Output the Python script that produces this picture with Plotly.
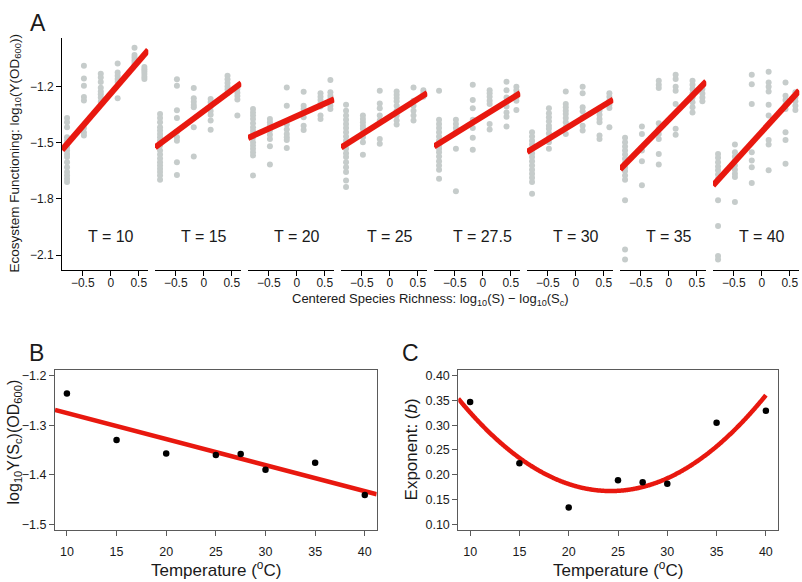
import numpy as np
import plotly.graph_objects as go

# ---------------- data ----------------
temperatures = [10, 15, 20, 25, 27.5, 30, 35, 40]
temp_labels = ["T = 10", "T = 15", "T = 20", "T = 25", "T = 27.5", "T = 30", "T = 35", "T = 40"]
species_richness = [1, 2, 4, 8, 16, 24]
log10_Sc = 0.78

# log10(Y(OD600)) per richness level (one list per level), per temperature
ef_T10 = [
    [-1.367, -1.390, -1.417, -1.470, -1.488, -1.505, -1.523, -1.541, -1.559, -1.576, -1.603, -1.630, -1.656, -1.674, -1.692, -1.709],
    [-1.088, -1.156, -1.195, -1.255, -1.273, -1.420, -1.445, -1.461],
    [-1.130, -1.150, -1.175, -1.205, -1.225, -1.240, -1.257, -1.280],
    [-1.076, -1.124, -1.141, -1.159, -1.175, -1.262],
    [-0.991, -1.030, -1.044, -1.058, -1.071, -1.085],
    [-1.094, -1.106, -1.119, -1.132, -1.147, -1.159],
]
ef_T15 = [
    [-1.346, -1.367, -1.390, -1.417, -1.434, -1.452, -1.470, -1.488, -1.514, -1.541, -1.562, -1.583, -1.603, -1.621, -1.638, -1.656, -1.674, -1.697],
    [-1.160, -1.195, -1.325, -1.367, -1.440, -1.470, -1.488, -1.603, -1.672],
    [-1.207, -1.262, -1.280, -1.297, -1.310, -1.417, -1.573],
    [-1.266, -1.283, -1.305, -1.330, -1.350, -1.380, -1.430],
    [-1.141, -1.160, -1.180, -1.198, -1.215, -1.233],
    [-1.212, -1.232, -1.250, -1.268, -1.354],
]
ef_T20 = [
    [-1.319, -1.337, -1.354, -1.372, -1.395, -1.417, -1.434, -1.452, -1.473, -1.496, -1.514, -1.532, -1.550, -1.567, -1.674],
    [-1.372, -1.390, -1.408, -1.434, -1.456, -1.479, -1.518, -1.615],
    [-1.204, -1.301, -1.402, -1.429, -1.452, -1.470, -1.484, -1.527],
    [-1.227, -1.301, -1.319, -1.337, -1.363, -1.408, -1.431],
    [-1.235, -1.253, -1.271, -1.289, -1.306, -1.354, -1.372],
    [-1.164, -1.230, -1.248, -1.266, -1.283, -1.301, -1.319],
]
ef_T25 = [
    [-1.296, -1.328, -1.354, -1.377, -1.399, -1.420, -1.443, -1.466, -1.488, -1.509, -1.532, -1.555, -1.576, -1.603, -1.630, -1.656, -1.701, -1.736],
    [-1.354, -1.372, -1.390, -1.408, -1.425, -1.448, -1.470, -1.496, -1.564],
    [-1.221, -1.289, -1.315, -1.354, -1.381, -1.479, -1.505],
    [-1.225, -1.243, -1.260, -1.278, -1.301, -1.328, -1.354, -1.381, -1.402],
    [-1.204, -1.275, -1.301, -1.328, -1.354, -1.381],
    [-1.218, -1.235, -1.253],
]
ef_T27_5 = [
    [-1.221, -1.377, -1.399, -1.420, -1.443, -1.466, -1.488, -1.514, -1.532, -1.550, -1.573, -1.598, -1.621, -1.644, -1.692],
    [-1.377, -1.399, -1.420, -1.443, -1.532, -1.759],
    [-1.189, -1.271, -1.315, -1.377, -1.420, -1.473, -1.537],
    [-1.218, -1.235, -1.253, -1.275, -1.292, -1.399, -1.429],
    [-1.173, -1.218, -1.257, -1.283, -1.306, -1.337, -1.360, -1.413],
    [-1.200, -1.218, -1.239, -1.257, -1.275, -1.324],
]
ef_T30 = [
    [-1.443, -1.466, -1.488, -1.509, -1.532, -1.555, -1.576, -1.598, -1.621, -1.644, -1.665, -1.686, -1.709, -1.772],
    [-1.315, -1.342, -1.363, -1.385, -1.408, -1.425, -1.448, -1.473, -1.496, -1.532],
    [-1.225, -1.292, -1.310, -1.328, -1.346, -1.367, -1.390, -1.417, -1.452],
    [-1.200, -1.235, -1.310, -1.331, -1.363, -1.408, -1.434],
    [-1.328, -1.349, -1.372, -1.390, -1.461, -1.479],
    [-1.235, -1.253, -1.275, -1.296, -1.314, -1.417],
]
ef_T35 = [
    [-1.473, -1.496, -1.519, -1.541, -1.562, -1.585, -1.608, -1.630, -1.651, -1.674, -1.697, -1.807, -2.070, -2.123],
    [-1.413, -1.452, -1.541, -1.598, -1.727],
    [-1.168, -1.189, -1.207, -1.395, -1.425, -1.452, -1.479, -1.559, -1.615],
    [-1.136, -1.159, -1.200, -1.221, -1.292, -1.425, -1.457],
    [-1.168, -1.189, -1.212, -1.236, -1.257, -1.283, -1.310, -1.337],
    [-1.195, -1.212, -1.236, -1.257, -1.278],
]
ef_T40 = [
    [-1.559, -1.580, -1.603, -1.626, -1.647, -1.669, -1.692, -1.807, -1.945, -2.105, -2.123],
    [-1.509, -1.550, -1.573, -1.594, -1.621, -1.644, -1.665, -1.683, -1.816],
    [-1.136, -1.186, -1.292, -1.550, -1.594, -1.630, -1.715],
    [-1.120, -1.177, -1.200, -1.225, -1.296, -1.354, -1.484, -1.509, -1.647],
    [-1.177, -1.248, -1.271, -1.296, -1.319, -1.443, -1.484, -1.612],
    [-1.230, -1.257, -1.278, -1.301, -1.324],
]
ef_all = [ef_T10, ef_T15, ef_T20, ef_T25, ef_T27_5, ef_T30, ef_T35, ef_T40]

# Panel B: log10 Y(Sc) per temperature ; Panel C: exponent b per temperature
log10_Y_Sc = [-1.236, -1.330, -1.357, -1.360, -1.358, -1.390, -1.376, -1.441]
exponent_b = [0.347, 0.223, 0.134, 0.189, 0.185, 0.182, 0.305, 0.329]

# ---------------- layout helpers ----------------
W, H = 802, 582
def fx(px):
    return px / W
def fy(py):
    return 1 - py / H

FONT = "Liberation Sans, Arial, Helvetica, sans-serif"
RED = "#e8180f"
GRAY = "#c6cccb"

A_left, A_step, A_width = 62.0, 93.0, 86.3
A_top, A_bottom = 36.7, 270.0
A_xrange = [-0.87, 0.67]
A_yrange = [-2.18, -0.937]

fig = go.Figure()
layout = dict(
    width=W, height=H, margin=dict(l=0, r=0, t=0, b=0),
    paper_bgcolor="white", plot_bgcolor="white", showlegend=False,
    font=dict(family=FONT, color="#1a1a1a", size=12),
)

x_centered = np.log10(species_richness) - log10_Sc

for i, (T, ef) in enumerate(zip(temperatures, ef_all)):
    xname = "x" if i == 0 else f"x{i+1}"
    xs, ys = [], []
    for xc, col in zip(x_centered, ef):
        xs += [xc] * len(col)
        ys += col
    fig.add_trace(go.Scatter(x=xs, y=ys, xaxis=xname, yaxis="y", mode="markers",
                             marker=dict(size=6, color=GRAY), hoverinfo="skip"))
    lx = np.array(A_xrange)
    fig.add_trace(go.Scatter(x=lx, y=log10_Y_Sc[i] + exponent_b[i] * lx, xaxis=xname, yaxis="y",
                             mode="lines", line=dict(color=RED, width=6)))
    x0 = A_left + i * A_step
    axkey = "xaxis" if i == 0 else f"xaxis{i+1}"
    layout[axkey] = dict(
        domain=[fx(x0), fx(x0 + A_width)], range=A_xrange, anchor="y",
        showgrid=False, zeroline=False, showline=True, linecolor="black", linewidth=1,
        ticks="outside", ticklen=5, tickcolor="black",
        tickvals=[-0.5, 0, 0.5], ticktext=["\u22120.5", "0", "0.5"],
        tickfont=dict(size=12, family=FONT, color="#1a1a1a"), ticklabelstandoff=-3,
    )
    layout.setdefault("annotations", []).append(dict(
        x=0, y=-2.0, xref=xname, yref="y", text=temp_labels[i], showarrow=False,
        font=dict(size=16, family=FONT, color="#1a1a1a"), xanchor="center", yanchor="middle"))

layout["yaxis"] = dict(
    domain=[fy(A_bottom), fy(A_top)], range=A_yrange, anchor="x",
    showgrid=False, zeroline=False, showline=True, linecolor="black", linewidth=1,
    ticks="outside", ticklen=5, tickcolor="black",
    tickvals=[-1.2, -1.5, -1.8, -2.1], tickformat=".1f",
    tickfont=dict(size=12, family=FONT, color="#1a1a1a"),
)

# ---------------- panel B ----------------
temps = np.array(temperatures, dtype=float)
B_xrange = [8.8, 41.2]
coefB = np.polyfit(temps, log10_Y_Sc, 1)
bx = np.array(B_xrange)
fig.add_trace(go.Scatter(x=bx, y=np.polyval(coefB, bx), xaxis="x9", yaxis="y2", mode="lines",
                         line=dict(color=RED, width=4.5)))
fig.add_trace(go.Scatter(x=temperatures, y=log10_Y_Sc, xaxis="x9", yaxis="y2", mode="markers",
                         marker=dict(size=6.5, color="black")))

# ---------------- panel C ----------------
coefC = np.polyfit(temps, exponent_b, 2)
cx = np.linspace(B_xrange[0], temps.max(), 300)
fig.add_trace(go.Scatter(x=cx, y=np.polyval(coefC, cx), xaxis="x10", yaxis="y3", mode="lines",
                         line=dict(color=RED, width=4.5, shape="spline")))
fig.add_trace(go.Scatter(x=temperatures, y=exponent_b, xaxis="x10", yaxis="y3", mode="markers",
                         marker=dict(size=6.5, color="black")))

BOX = "#5a5a5a"
common_x = dict(range=B_xrange, tickvals=[10, 15, 20, 25, 30, 35, 40],
                showgrid=False, zeroline=False, showline=True, mirror=True,
                linecolor=BOX, linewidth=1, ticks="outside", ticklen=5, tickcolor=BOX,
                tickfont=dict(size=12.5, family=FONT, color="#1a1a1a"), ticklabelstandoff=5)
common_y = dict(showgrid=False, zeroline=False, showline=True, mirror=True,
                linecolor=BOX, linewidth=1, ticks="outside", ticklen=5, tickcolor=BOX,
                tickfont=dict(size=12.5, family=FONT, color="#1a1a1a"))
BC_top, BC_bottom = 370.0, 531.0
layout["xaxis9"] = dict(domain=[fx(55), fx(376.7)], anchor="y2", **common_x)
layout["yaxis2"] = dict(domain=[fy(BC_bottom), fy(BC_top)], anchor="x9", range=[-1.512, -1.188],
                        tickvals=[-1.2, -1.3, -1.4, -1.5], tickformat=".1f", **common_y)
layout["xaxis10"] = dict(domain=[fx(458.3), fx(777.7)], anchor="y3", **common_x)
layout["yaxis3"] = dict(domain=[fy(BC_bottom), fy(BC_top)], anchor="x10", range=[0.088, 0.412],
                        tickvals=[0.10, 0.15, 0.20, 0.25, 0.30, 0.35, 0.40], tickformat=".2f", **common_y)

# ---------------- text annotations ----------------
def ann(text, xp, yp, size, angle=0, xanchor="center"):
    return dict(x=fx(xp), y=fy(yp), xref="paper", yref="paper", text=text, showarrow=False,
                textangle=angle, xanchor=xanchor, yanchor="middle",
                font=dict(size=size, family=FONT, color="#1a1a1a"))

layout["annotations"] += [
    ann("A", 28, 22, 23, xanchor="left"),
    ann("B", 27, 353, 23, xanchor="left"),
    ann("C", 400, 353, 23, xanchor="left"),
    ann("Ecosystem Functioning: log<sub>10</sub>(Y(OD<sub>600</sub>))", 15, 153, 13.5, angle=-90),
    ann("Centered Species Richness: log<sub>10</sub>(S) \u2212 log<sub>10</sub>(S<sub>c</sub>)", 430, 300, 13),
    ann("log<sub>10</sub>Y(S<sub>c</sub>)(OD<sub>600</sub>)", 14, 443, 16, angle=-90),
    ann("Temperature (<sup>o</sup>C)", 216, 570, 17),
    ann("Exponent: (<i>b</i>)", 411, 450, 17, angle=-90),
    ann("Temperature (<sup>o</sup>C)", 618, 570, 17),
]

fig.update_layout(**layout)
fig.write_html("out.html", config={"displayModeBar": False},
               post_script="document.body.style.margin='0px';document.body.style.padding='0px';document.body.style.overflow='hidden';")
